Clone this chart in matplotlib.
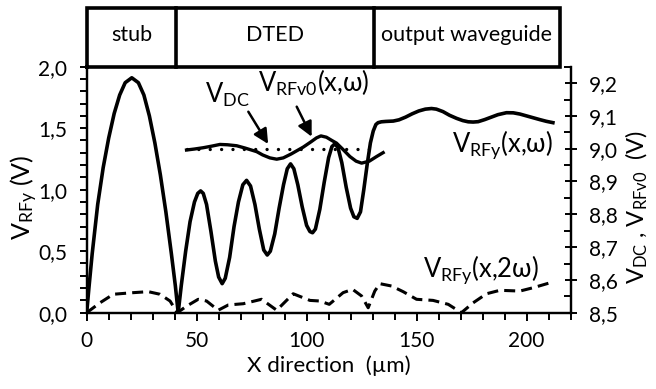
import matplotlib
matplotlib.use('Agg')
import matplotlib.pyplot as plt
from matplotlib.ticker import MultipleLocator, FixedLocator

plt.rcParams['font.family'] = ['Lato', 'DejaVu Sans']
plt.rcParams['mathtext.fontset'] = 'custom'
plt.rcParams['mathtext.rm'] = 'Lato'
plt.rcParams['mathtext.it'] = 'Lato:italic'
plt.rcParams['mathtext.bf'] = 'Lato:bold'

# ---------------- data ----------------
# V_RFy(x, w)  [left axis, V]
x_main = [0, 1, 2.5, 5, 7.5, 10, 12.5, 15, 17.5, 20.5, 23.5, 26, 28.5, 31, 33.5, 36, 38.5, 40.3, 41.6,
          43, 45, 47, 49, 50.5, 51.8, 53, 54.5, 56.5, 58.5, 60, 61.6,
          63, 65, 67, 69, 71, 72.7, 74.5, 76.5, 78.5, 80.5, 82.1,
          83.5, 85.5, 87.5, 89.5, 91.2, 92.7, 94.2, 96, 98, 100, 101.5, 102.7,
          104, 106, 108, 110, 111.5, 112.9, 114.3, 116, 118, 120, 121.5, 123,
          124.5, 126, 127.5, 129, 130.3, 131.5, 132.5, 134, 136, 139.4, 142, 145, 148, 151, 154, 156.8,
          159, 162, 165, 168.2, 171, 173.5, 175.7, 178, 181, 184, 187, 190.9, 194, 197, 200, 203, 206,
          209, 212]
v_main = [0, 0.2, 0.48, 0.88, 1.18, 1.42, 1.62, 1.77, 1.87, 1.91, 1.87, 1.77, 1.6, 1.38, 1.12, 0.82, 0.48, 0.22, 0,
          0.22, 0.5, 0.74, 0.9, 0.97, 0.99, 0.97, 0.88, 0.66, 0.42, 0.29, 0.236,
          0.28, 0.45, 0.7, 0.9, 1.04, 1.076, 1.03, 0.88, 0.68, 0.51, 0.469,
          0.5, 0.64, 0.85, 1.04, 1.17, 1.21, 1.17, 1.04, 0.86, 0.71, 0.66, 0.65,
          0.68, 0.84, 1.06, 1.26, 1.35, 1.374, 1.34, 1.22, 1.02, 0.85, 0.78, 0.767,
          0.82, 1.0, 1.2, 1.38, 1.477, 1.53, 1.545, 1.552, 1.555, 1.558, 1.568, 1.59, 1.617, 1.64, 1.655, 1.66,
          1.655, 1.635, 1.605, 1.58, 1.562, 1.552, 1.55, 1.553, 1.57, 1.59, 1.61, 1.626, 1.625, 1.615, 1.6, 1.585, 1.57,
          1.556, 1.545]

# V_RFy(x, 2w)  [left axis, V]
x_2w = [0, 6, 12.1, 21.2, 28, 33.3, 37.9, 41.2, 45.5, 50.7, 54.5, 59.8, 64.4, 71.2, 79.5, 86.4,
        93.9, 101.5, 106, 110.3, 116.6, 120.9, 125, 128, 131, 133.3, 138.6, 143.9, 150, 157.5,
        164.4, 170.4, 175.7, 181.8, 187.9, 197, 203, 212]
v_2w = [0, 0.08, 0.15, 0.163, 0.171, 0.15, 0.095, 0, 0.054, 0.109, 0.095, 0.02, 0.063, 0.073, 0.109, 0.02,
        0.154, 0.10, 0.095, 0.068, 0.163, 0.19, 0.136, 0.04, 0.176, 0.236, 0.217, 0.171, 0.109, 0.10,
        0.068, 0, 0.08, 0.154, 0.182, 0.176, 0.203, 0.25]

# V_DC  [right axis, V]
x_dc = [45.4, 133.3]
v_dc = [9.0, 9.0]

# V_RFv0(x, w)  [right axis, V]
x_rf0 = [45.4, 49, 53, 57, 60.6, 64, 68.2, 72, 77.3, 80, 83.3, 86.4, 89.4, 93, 98.5, 102, 104.5, 106.5,
         109, 111.5, 113.6, 116.5, 119.7, 122.5, 125, 128.5, 131.8, 134.8]
v_rf0 = [8.996, 8.999, 9.003, 9.008, 9.013, 9.012, 9.009, 9.002, 8.991, 8.981, 8.972, 8.968, 8.972, 8.984,
         9.005, 9.021, 9.033, 9.039, 9.035, 9.025, 9.017, 8.998, 8.976, 8.962, 8.956, 8.962, 8.976, 8.988]

# regions drawn in the box above the plot
section_edges = [0, 40.8, 130.5, 215]
section_names = ['stub', 'DTED', 'output waveguide']

left_ticks = [0.0, 0.5, 1.0, 1.5, 2.0]
left_labels = ['0,0', '0,5', '1,0', '1,5', '2,0']
right_ticks = [8.5, 8.6, 8.7, 8.8, 8.9, 9.0, 9.1, 9.2]
right_labels = ['8,5', '8,6', '8,7', '8,8', '8,9', '9,0', '9,1', '9,2']
x_ticks = [0, 50, 100, 150, 200]

# ---------------- figure ----------------
W, H = 656, 389
fig = plt.figure(figsize=(W / 100, H / 100), dpi=100)
L, R, T, B = 86.7, 570.5, 66.7, 312.7
ax = fig.add_axes([L / W, 1 - B / H, (R - L) / W, (B - T) / H])
ax2 = ax.twinx()
renderer = fig.canvas.get_renderer()


def fit_width(txt, target_px):
    """scale a text's font size so that its rendered width matches target_px"""
    for _ in range(3):
        w = txt.get_window_extent(renderer=renderer).width
        if w > 0:
            txt.set_fontsize(txt.get_fontsize() * target_px / w)


FS = 15
lw_sp = 1.6

ax.plot(x_main, v_main, color='black', lw=2.6, solid_joinstyle='round', zorder=3)
ax.plot(x_2w, v_2w, color='black', lw=2.2, linestyle=(0, (3.6, 2.0)), zorder=3)
ax2.plot(x_dc, v_dc, color='black', lw=2.4, linestyle=(0, (0.01, 3.4)), dash_capstyle='round')
ax2.plot(x_rf0, v_rf0, color='black', lw=2.4, solid_joinstyle='round')

ax.set_xlim(0, 220)
ax.set_ylim(0, 2.0)
ax2.set_ylim(8.5, 9.25)

ax.xaxis.set_major_locator(FixedLocator(x_ticks))
ax.xaxis.set_minor_locator(MultipleLocator(10))
ax.set_xticklabels([str(t) for t in x_ticks])
ax.yaxis.set_major_locator(FixedLocator(left_ticks))
ax.set_yticklabels(left_labels)
ax.yaxis.set_minor_locator(MultipleLocator(0.1))
ax2.yaxis.set_major_locator(FixedLocator(right_ticks))
ax2.set_yticklabels(right_labels)
ax2.yaxis.set_minor_locator(MultipleLocator(0.05))

ax.tick_params(axis='x', which='major', direction='out', length=6, width=1.4, labelsize=FS, pad=7)
ax.tick_params(axis='x', which='minor', direction='out', length=5, width=1.4)
ax.tick_params(axis='y', which='major', direction='out', length=5, width=1.4, labelsize=FS, pad=9)
ax.tick_params(axis='y', which='minor', direction='out', length=5, width=1.4)
ax2.tick_params(axis='y', which='major', direction='inout', length=9, width=1.4, labelsize=FS, pad=9)
ax2.tick_params(axis='y', which='minor', direction='in', length=5, width=1.4)

for a in (ax, ax2):
    a.spines['top'].set_visible(False)
    for s in ('left', 'right', 'bottom'):
        a.spines[s].set_linewidth(lw_sp)

# box with sections above the axes
tr = ax.get_xaxis_transform()
box_top = (B - 8) / (B - T)
blw = 2.6
ax.plot([section_edges[0], section_edges[-1], section_edges[-1], section_edges[0], section_edges[0]],
        [1, 1, box_top, box_top, 1], transform=tr, clip_on=False, color='black', lw=blw,
        solid_joinstyle='miter')
for e in section_edges[1:-1]:
    ax.plot([e, e], [1, box_top], transform=tr, clip_on=False, color='black', lw=blw)
for i, name in enumerate(section_names):
    xc = (section_edges[i] + section_edges[i + 1]) / 2
    ax.text(xc, (1 + box_top) / 2 + 0.01, name, transform=tr, ha='center', va='center', fontsize=FS + 0.5)


def px_to_data(px, py):
    return (px - L) / (R - L) * 220, (B - py) / (B - T) * 2.0


# curve labels (size matched on the widest-known label, then shared)
ref = ax.text(*px_to_data(451.7, 151.7), r'$\mathregular{V_{RFy}(x{,}ω)}$', fontsize=17,
              ha='left', va='baseline')
fit_width(ref, 553.3 - 451.7)
CFS = ref.get_fontsize()
curve_labels = [
    (r'$\mathregular{V_{DC}}$', 205, 103.3),
    (r'$\mathregular{V_{RFv0}(x{,}ω)}$', 258.3, 91.7),
    (r'$\mathregular{V_{RFy}(x{,}2ω)}$', 423.3, 276.7),
]
for s, x0, yb in curve_labels:
    ax.text(*px_to_data(x0, yb), s, fontsize=CFS, ha='left', va='baseline')

arrow = dict(arrowstyle='-|>', mutation_scale=22, lw=1.8, color='black', shrinkA=0, shrinkB=0)
ax.annotate('', xy=(82.5, 1.372), xytext=(73.5, 1.634), arrowprops=arrow)
ax.annotate('', xy=(102.3, 1.431), xytext=(95.5, 1.675), arrowprops=arrow)

# axis labels
fig.text(24 / W, 1 - 197 / H, r'$\mathregular{V_{RFy}}$ (V)', rotation=90, ha='center', va='center',
         fontsize=FS + 3)
fig.text(637 / W, 1 - 207 / H, r'$\mathregular{V_{DC}}$ , $\mathregular{V_{RFv0}}$  (V)', rotation=90,
         ha='center', va='center', fontsize=FS + 2)
fig.text(329 / W, 1 - 366 / H, 'X direction  (µm)', ha='center', va='center', fontsize=FS + 1)

fig.savefig('out.png', dpi=100)
